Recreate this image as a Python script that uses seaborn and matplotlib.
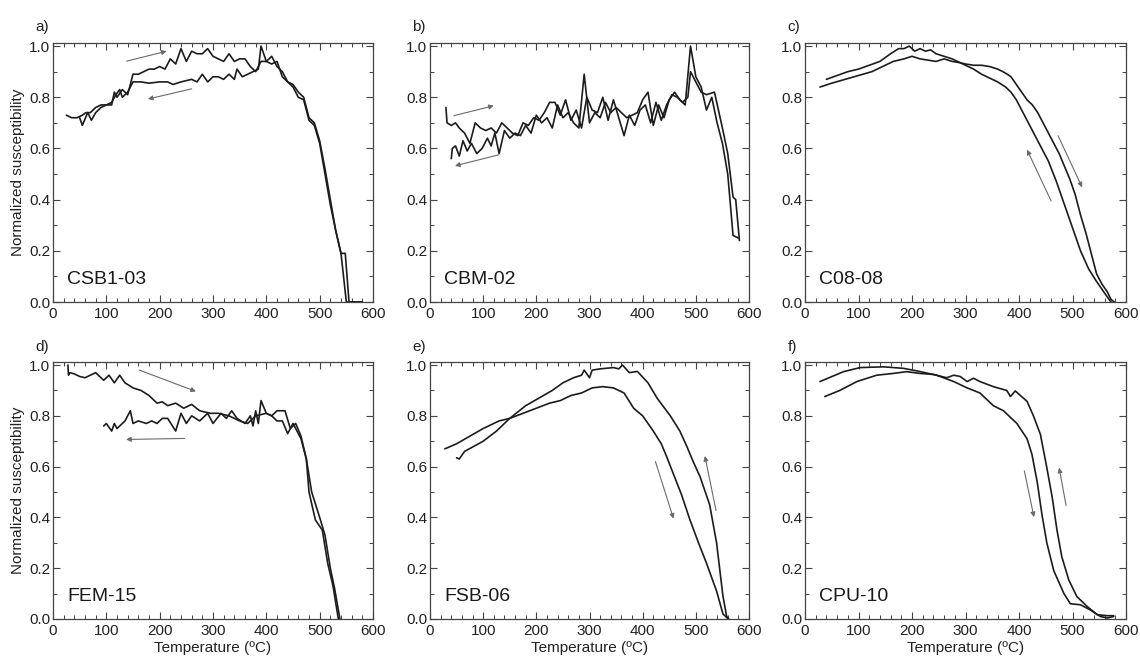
import matplotlib
matplotlib.use("Agg")
import matplotlib.pyplot as plt
from matplotlib.ticker import MultipleLocator
import seaborn as sns
import pandas as pd

# ---------------- data ----------------
panel_letters = ["a)", "b)", "c)", "d)", "e)", "f)"]
sample_names = ["CSB1-03", "CBM-02", "C08-08", "FEM-15", "FSB-06", "CPU-10"]

a_heat_T = [25,35,45,55,62,70,80,90,100,110,115,120,130,140,150,160,170,180,190,200,
            210,220,230,240,250,260,270,280,290,300,310,320,330,340,350,360,370,380,390,400,
            410,420,430,440,450,460,470,480,490,500,510,520,530,540,548,555,565,580]
a_heat = [0.73,0.72,0.72,0.73,0.74,0.74,0.76,0.77,0.77,0.77,0.82,0.80,0.83,0.81,0.89,0.89,0.90,0.91,0.91,0.92,
          0.91,0.95,0.93,0.99,0.94,0.98,0.97,0.97,0.99,0.96,0.95,0.94,0.97,0.94,0.95,0.95,0.92,0.90,0.94,0.94,
          0.96,0.92,0.90,0.86,0.85,0.82,0.80,0.72,0.70,0.63,0.52,0.40,0.28,0.19,0.19,0.00,0.00,0.00]
a_cool_T = [50,55,65,72,80,90,100,110,118,125,130,140,150,165,180,200,215,225,240,260,
            270,280,290,300,310,320,330,340,345,355,365,375,385,390,400,410,420,430,440,450,
            460,470,480,490,500,510,520,530,540,550,580]
a_cool = [0.72,0.69,0.74,0.71,0.74,0.76,0.77,0.78,0.81,0.83,0.80,0.82,0.86,0.86,0.855,0.86,0.86,0.85,0.86,0.87,
          0.86,0.89,0.86,0.88,0.88,0.87,0.89,0.87,0.91,0.88,0.89,0.90,0.91,1.00,0.94,0.93,0.94,0.88,0.86,0.84,
          0.80,0.79,0.71,0.69,0.62,0.50,0.38,0.28,0.19,0.00,0.00]

b_heat_T = [30,32,40,48,55,65,75,85,95,105,115,125,135,145,155,165,175,185,195,205,
            215,225,235,245,255,265,275,285,295,305,315,325,335,345,355,365,375,385,395,405,
            415,425,435,445,455,465,475,485,490,500,510,520,535,550,560,570,575,582]
b_heat = [0.76,0.70,0.69,0.70,0.68,0.66,0.62,0.70,0.68,0.67,0.68,0.66,0.70,0.68,0.66,0.65,0.70,0.69,0.72,0.71,
          0.74,0.78,0.78,0.73,0.79,0.71,0.75,0.68,0.80,0.75,0.74,0.80,0.71,0.79,0.72,0.65,0.73,0.69,0.75,0.77,
          0.70,0.78,0.71,0.77,0.81,0.80,0.78,0.80,0.90,0.86,0.82,0.81,0.82,0.68,0.58,0.41,0.40,0.24]
b_cool_T = [40,42,48,55,62,70,78,88,98,108,115,122,130,140,150,160,170,180,190,200,
            210,220,230,240,250,260,270,280,290,300,310,320,330,340,350,360,370,380,390,400,
            410,420,430,440,450,460,470,480,490,500,510,520,530,540,550,560,570,580]
b_cool = [0.56,0.60,0.61,0.57,0.63,0.59,0.62,0.58,0.60,0.64,0.61,0.66,0.58,0.67,0.64,0.66,0.65,0.69,0.66,0.73,
          0.70,0.72,0.68,0.77,0.72,0.74,0.70,0.68,0.89,0.70,0.74,0.72,0.78,0.74,0.76,0.74,0.72,0.73,0.74,0.79,
          0.82,0.69,0.77,0.72,0.79,0.82,0.79,0.77,1.00,0.88,0.84,0.75,0.80,0.70,0.62,0.50,0.26,0.25]

c_heat_T = [28,50,75,100,125,145,165,185,200,215,230,245,260,275,290,300,315,330,345,360,
            370,378,385,395,405,415,425,435,445,455,465,475,485,495,505,515,525,535,545,555,
            565,572,578]
c_heat = [0.84,0.855,0.87,0.885,0.90,0.92,0.94,0.95,0.96,0.95,0.945,0.94,0.95,0.94,0.935,0.93,0.925,0.925,0.92,0.91,
          0.90,0.89,0.88,0.85,0.82,0.79,0.77,0.74,0.70,0.66,0.62,0.58,0.53,0.48,0.42,0.34,0.27,0.19,0.11,0.07,
          0.04,0.01,0.00]
c_cool_T = [40,60,80,100,120,140,160,175,185,195,205,215,225,235,245,260,275,290,300,315,
            330,345,360,375,385,395,410,425,440,455,470,485,500,515,530,545,555,565,572]
c_cool = [0.87,0.885,0.90,0.91,0.925,0.94,0.97,0.99,0.99,1.00,0.98,0.99,0.98,0.985,0.97,0.96,0.95,0.935,0.925,0.91,
          0.89,0.875,0.86,0.84,0.82,0.79,0.73,0.67,0.61,0.55,0.47,0.38,0.29,0.20,0.13,0.08,0.05,0.02,0.00]

d_heat_T = [28,29,32,40,50,60,70,80,90,95,105,115,125,135,150,165,180,195,205,215,
            230,245,260,275,295,310,330,350,365,380,400,410,420,435,445,455,465,475,485,500,
            510,520,528,538]
d_heat = [1.00,0.96,0.97,0.965,0.955,0.95,0.96,0.97,0.95,0.94,0.96,0.93,0.96,0.93,0.91,0.90,0.88,0.85,0.855,0.84,
          0.85,0.83,0.845,0.82,0.81,0.81,0.80,0.78,0.77,0.80,0.81,0.80,0.82,0.82,0.75,0.77,0.72,0.63,0.50,0.40,
          0.33,0.20,0.12,0.00]
d_cool_T = [95,100,110,115,120,125,135,145,150,160,175,185,195,205,215,230,240,250,260,275,
            290,300,315,325,335,345,360,370,375,380,385,390,400,410,420,430,440,450,465,475,
            480,492,505,515,525,535]
d_cool = [0.76,0.77,0.74,0.77,0.75,0.76,0.78,0.82,0.77,0.78,0.77,0.78,0.77,0.79,0.79,0.74,0.81,0.77,0.80,0.78,
          0.81,0.77,0.81,0.79,0.82,0.79,0.77,0.80,0.76,0.82,0.77,0.86,0.81,0.80,0.78,0.78,0.73,0.77,0.71,0.63,
          0.50,0.39,0.35,0.22,0.13,0.00]

e_heat_T = [28,50,75,100,130,150,175,200,225,245,265,285,305,325,345,365,383,400,420,435,
            445,458,473,489,505,520,539,551,561]
e_heat = [0.67,0.69,0.72,0.75,0.78,0.79,0.81,0.83,0.85,0.86,0.88,0.89,0.91,0.915,0.91,0.89,0.83,0.80,0.74,0.69,
          0.64,0.57,0.49,0.39,0.30,0.22,0.11,0.02,0.00]
e_cool_T = [50,55,65,100,125,150,180,205,230,250,270,285,290,300,305,320,345,355,362,375,
            390,410,427,452,470,483,495,508,526,539,551,558,562]
e_cool = [0.635,0.63,0.66,0.70,0.74,0.79,0.84,0.87,0.90,0.93,0.95,0.96,0.98,0.95,0.98,0.985,0.99,0.985,1.00,0.97,
          0.975,0.93,0.87,0.80,0.74,0.68,0.62,0.56,0.45,0.30,0.09,0.01,0.00]

f_heat_T = [28,72,103,147,184,209,246,278,303,327,352,371,396,415,424,434,443,452,465,484,
            496,515,533,552,565,577]
f_heat = [0.935,0.974,0.99,0.993,0.987,0.977,0.96,0.935,0.91,0.89,0.84,0.82,0.77,0.71,0.65,0.54,0.41,0.30,0.19,0.10,
          0.06,0.056,0.036,0.01,0.004,0.01]
f_cool_T = [37,65,97,134,165,190,215,240,265,278,290,303,315,327,352,377,384,393,415,427,
            440,452,462,471,480,493,508,527,546,565,577]
f_cool = [0.876,0.90,0.935,0.96,0.967,0.974,0.967,0.963,0.95,0.96,0.955,0.935,0.948,0.935,0.915,0.90,0.876,0.898,0.857,0.80,
          0.727,0.596,0.48,0.35,0.245,0.154,0.089,0.05,0.017,0.013,0.013]

# heating / cooling direction arrows (tail -> head), data coordinates
arrows = [
    [((138, 0.941), (213, 0.980)), ((260, 0.833), (178, 0.793))],
    [((45, 0.728), (120, 0.767)), ((129, 0.575), (47, 0.532))],
    [((473, 0.650), (518, 0.448)), ((460, 0.395), (415, 0.595))],
    [((162, 0.980), (268, 0.896)), ((247, 0.711), (137, 0.707))],
    [((424, 0.620), (458, 0.395)), ((538, 0.427), (517, 0.642))],
    [((410, 0.583), (428, 0.401)), ((488, 0.447), (475, 0.596))],
]

curves = [
    [(a_heat_T, a_heat), (a_cool_T, a_cool)],
    [(b_heat_T, b_heat), (b_cool_T, b_cool)],
    [(c_heat_T, c_heat), (c_cool_T, c_cool)],
    [(d_heat_T, d_heat), (d_cool_T, d_cool)],
    [(e_heat_T, e_heat), (e_cool_T, e_cool)],
    [(f_heat_T, f_heat), (f_cool_T, f_cool)],
]

# ---------------- style ----------------
sns.set_theme(style="ticks")
plt.rcParams["font.family"] = ["Liberation Sans", "DejaVu Sans"]
plt.rcParams["axes.linewidth"] = 0.9
plt.rcParams["axes.edgecolor"] = "#444444"

fig = plt.figure(figsize=(11.4, 6.62), dpi=100)
W, H = 1140.0, 662.0
lefts = [53, 430, 805]
widths = [320, 319, 321]
rows = [(43, 302), (362, 619)]

line_color = "#1c1c1c"
for i in range(6):
    r, c = divmod(i, 3)
    top, bot = rows[r]
    ax = fig.add_axes([lefts[c] / W, 1 - bot / H, widths[c] / W, (bot - top) / H])
    for T, V in curves[i]:
        df = pd.DataFrame({"T": T, "V": V})
        sns.lineplot(data=df, x="T", y="V", ax=ax, sort=False, estimator=None,
                     color=line_color, lw=1.2)
    for (tail, head) in arrows[i]:
        ax.annotate("", xy=head, xytext=tail,
                    arrowprops=dict(arrowstyle="-|>", color="#6a6a6a", lw=0.8,
                                    mutation_scale=7, shrinkA=0, shrinkB=0))
    ax.set_xlim(0, 600)
    ax.set_ylim(0, 1.012)
    ax.xaxis.set_major_locator(MultipleLocator(100))
    ax.xaxis.set_minor_locator(MultipleLocator(20))
    ax.yaxis.set_major_locator(MultipleLocator(0.2))
    ax.yaxis.set_minor_locator(MultipleLocator(0.1))
    ax.yaxis.set_major_formatter(matplotlib.ticker.FormatStrFormatter("%.1f"))
    ax.tick_params(which="both", direction="in", top=True, right=True,
                   colors="#444444", labelcolor="#222222")
    ax.tick_params(which="major", length=5, width=0.8, labelsize=11)
    ax.tick_params(axis="x", which="major", pad=3.5)
    ax.tick_params(axis="y", which="major", pad=2)
    ax.tick_params(which="minor", length=3, width=0.7)
    ax.set_xlabel("Temperature (ºC)" if r == 1 else "", fontsize=11, color="#222222", labelpad=2)
    ax.set_ylabel("Normalized susceptibility" if c == 0 else "", fontsize=11,
                  color="#222222", labelpad=3)
    ax.text(-0.055, 1.035 if r == 0 else 1.03, panel_letters[i], transform=ax.transAxes,
            fontsize=11, color="#222222", ha="left", va="bottom")
    ax.text(0.045, 0.07, sample_names[i], transform=ax.transAxes,
            fontsize=14, color="#1a1a1a", ha="left", va="baseline")

fig.savefig("out.png", dpi=100)
